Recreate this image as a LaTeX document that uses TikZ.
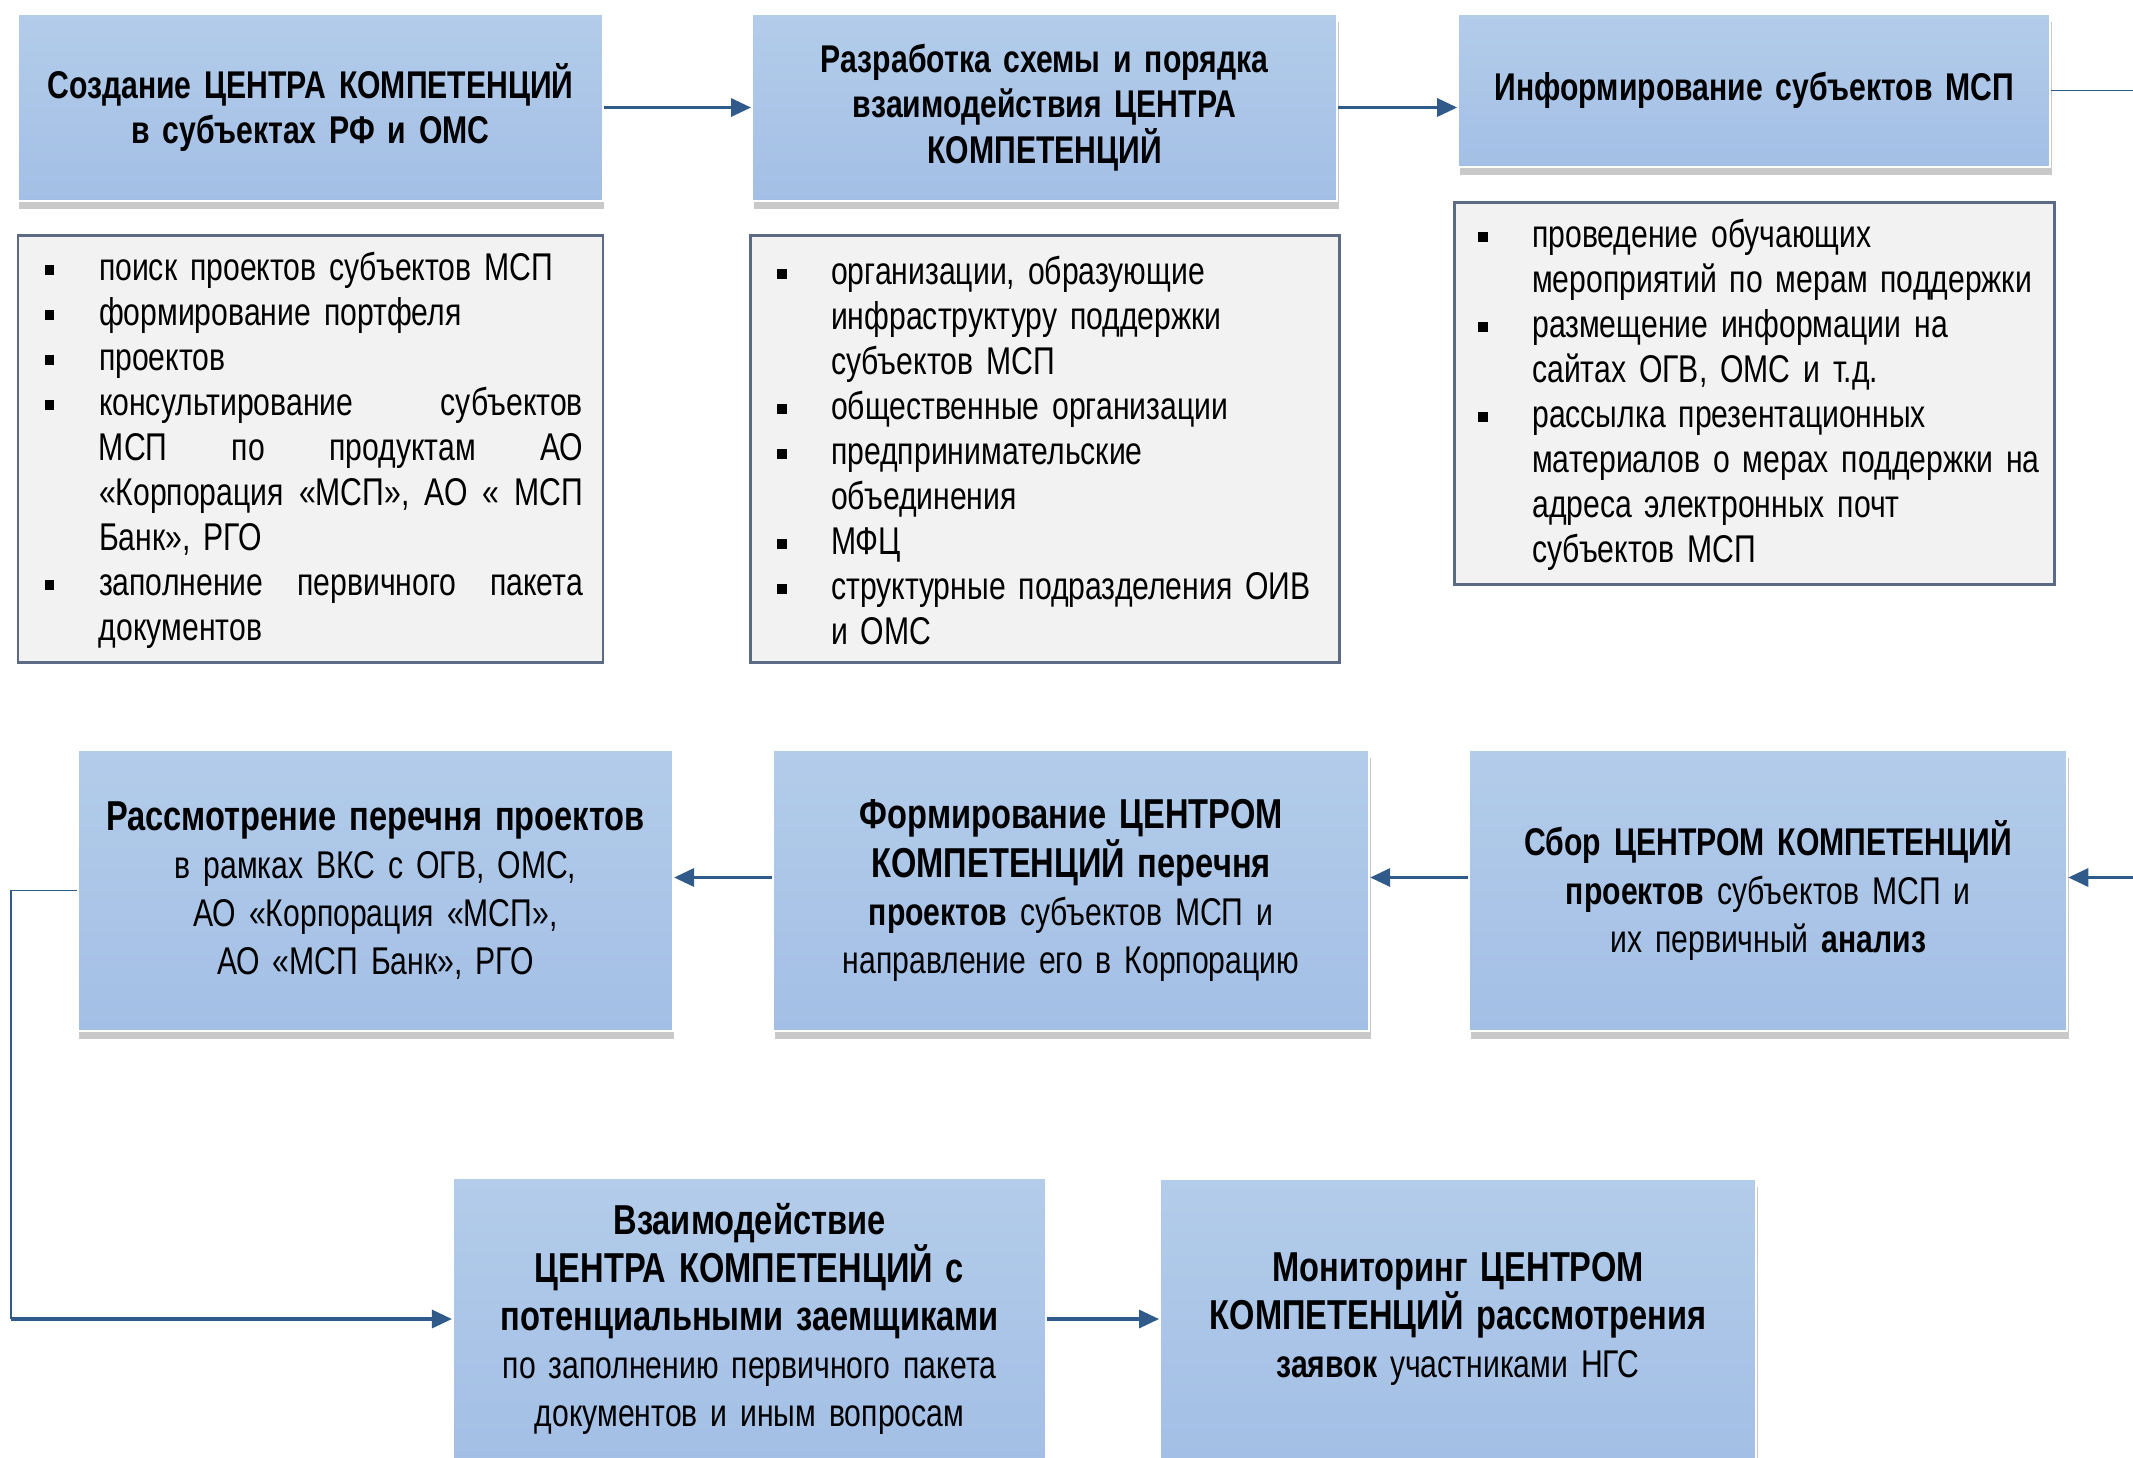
\documentclass[tikz,border=0pt]{standalone}
\usepackage{fontspec}
\setmainfont{Liberation Sans}[FakeStretch=0.78]
\usetikzlibrary{arrows.meta,positioning,shadows}
\definecolor{bxtop}{HTML}{B3CCEA}
\definecolor{bxbot}{HTML}{A3BFE5}
\definecolor{lst}{HTML}{F2F2F2}
\definecolor{lstrim}{HTML}{5C6A83}
\definecolor{ln}{HTML}{2F5A8A}
\setlength{\parskip}{0pt}
\newcommand{\sq}{\rule[1.6pt]{2.7pt}{2.7pt}}
\newcommand{\bitem}{\par\noindent\hangindent=0.61cm\hangafter=1%
  \makebox[0.61cm][l]{\hspace{0.07cm}\sq}}
\newcommand{\lend}{\par\kern0.14cm}
\newcommand{\hd}[1]{{\fontsize{11.9}{13.7}\selectfont\bfseries #1}}
\tikzset{
  stage/.style={
    rectangle, draw=white, line width=0.6pt,
    top color=bxtop, bottom color=bxbot,
    drop shadow={shadow xshift=0.4pt, shadow yshift=-2.2pt,
      opacity=0.3, fill=black!70},
    text width=5.6cm, align=center, inner sep=2pt,
    font=\fontsize{11}{13.7}\selectfont
  },
  head/.style={stage, font=\fontsize{11}{13}\selectfont\bfseries,
    minimum width=5.85cm, minimum height=1.87cm},
  lbox/.style={
    rectangle, draw=lstrim, line width=0.8pt, fill=lst,
    text width=5.45cm, align=left, inner xsep=0.2cm, inner ysep=0pt,
    font=\fontsize{11}{12.8}\selectfont
  },
  arr/.style={-{Triangle[length=0.2cm,width=0.18cm]}, line width=0.9pt, ln},
  link/.style={line width=0.45pt, ln}
}

\begin{document}
\begin{tikzpicture}
\useasboundingbox (0,0) rectangle (21.33,-14.57);

% top row
\node[head] (create) at (3.105,-1.075)
  {Создание ЦЕНТРА КОМПЕТЕНЦИЙ\\в субъектах РФ и ОМС};

\node[head, right=1.47cm of create] (design)
  {Разработка схемы и порядка\\взаимодействия ЦЕНТРА\\КОМПЕТЕНЦИЙ};

\node[head, minimum width=5.92cm, minimum height=1.53cm,
  right=1.19cm of design.north east, anchor=north west] (inform)
  {Информирование субъектов МСП};

% lists
\node[lbox, minimum width=5.85cm, minimum height=4.27cm,
  below=0.32cm of create] (tasks) {%
  \bitem поиск проектов субъектов МСП
  \bitem формирование портфеля
  \bitem проектов
  \bitem консультирование\hfill субъектов\newline
    МСП\hfill по\hfill продуктам\hfill АО\newline
    «Корпорация\hfill «МСП»,\hfill АО\hfill «\hfill МСП\newline
    Банк», РГО
  \bitem заполнение\hfill первичного\hfill пакета\newline
    документов\lend};

\node[lbox, text width=5.49cm, minimum width=5.89cm, minimum height=4.27cm,
  below=0.32cm of design] (partners) {%
  \bitem организации, образующие\newline
    инфраструктуру поддержки\newline
    субъектов МСП
  \bitem общественные организации
  \bitem предпринимательские\newline
    объединения
  \bitem МФЦ
  \bitem структурные подразделения ОИВ\newline
    и ОМС\lend};

\node[lbox, text width=5.66cm, inner xsep=0.17cm,
  minimum width=6cm, minimum height=3.82cm,
  below=0.33cm of inform] (channels) {%
  \bitem проведение обучающих\newline
    мероприятий по мерам поддержки
  \bitem размещение информации на\newline
    сайтах ОГВ, ОМС и т.д.
  \bitem рассылка презентационных\newline
    \mbox{материалов о мерах поддержки на}\newline
    адреса электронных почт\newline
    субъектов МСП\lend};

% middle row
\node[stage, minimum width=5.95cm, minimum height=2.81cm] (review)
  at (3.755,-8.905)
  {\hd{Рассмотрение перечня проектов}\\в рамках ВКС с ОГВ, ОМС,\\
   АО «Корпорация «МСП»,\\АО «МСП Банк», РГО};

\node[stage, minimum width=5.96cm, minimum height=2.81cm,
  right=0.98cm of review] (listing)
  {\hd{Формирование ЦЕНТРОМ}\\\hd{КОМПЕТЕНЦИЙ перечня}\\
   \textbf{проектов} субъектов МСП и\\направление его в Корпорацию};

\node[stage, minimum width=5.98cm, minimum height=2.81cm,
  right=0.98cm of listing] (collect)
  {\textbf{Сбор ЦЕНТРОМ КОМПЕТЕНЦИЙ}\\\textbf{проектов} субъектов МСП и\\
   их первичный \textbf{анализ}};

% bottom row
\node[stage, minimum width=5.93cm, minimum height=2.82cm] (contact)
  at (7.495,-13.19)
  {\hd{Взаимодействие}\\\hd{ЦЕНТРА КОМПЕТЕНЦИЙ с}\\
   \hd{потенциальными заемщиками}\\по заполнению первичного пакета\\
   документов и иным вопросам};

\node[stage, minimum width=5.96cm, minimum height=2.8cm,
  right=1.12cm of contact] (monitor)
  {\hd{Мониторинг ЦЕНТРОМ}\\\hd{КОМПЕТЕНЦИЙ рассмотрения}\\
   \textbf{заявок} участниками НГС};

% connectors
\coordinate (lft) at (0.11,0);
\coordinate (rgt) at (21.7,0);

\draw[arr] (create) -- (design);
\draw[arr] (design.east) -- (design.east -| inform.west);
\draw[link] (inform.east) -| (rgt |- collect.east);
\draw[arr] ([yshift=1.3mm]rgt |- collect.east) -- ([yshift=1.3mm]collect.east);
\draw[arr] ([yshift=1.3mm]collect.west) -- ([yshift=1.3mm]listing.east);
\draw[arr] ([yshift=1.3mm]listing.west) -- ([yshift=1.3mm]review.east);
\draw[link] (review.west) -| (lft |- contact.west);
\draw[arr] (lft |- contact.west) -- (contact.west);
\draw[arr] (contact) -- (monitor);

\end{tikzpicture}
\end{document}
